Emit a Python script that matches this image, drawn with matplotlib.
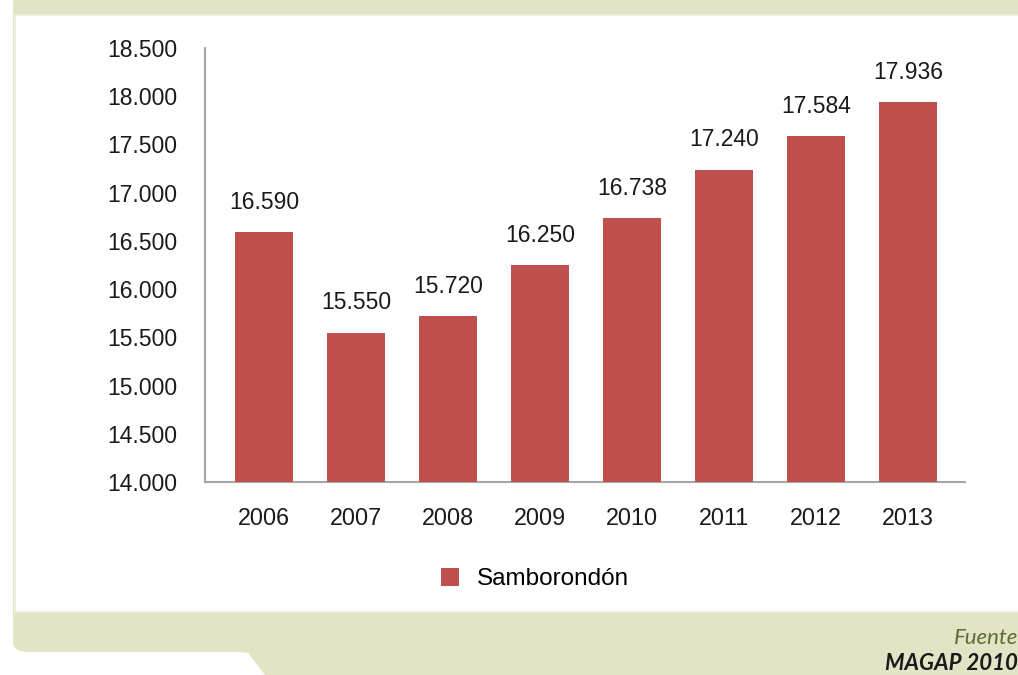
import matplotlib
matplotlib.use("Agg")
from matplotlib import pyplot as plt
from matplotlib.patches import Rectangle, FancyBboxPatch, Polygon

years = ['2006', '2007', '2008', '2009', '2010', '2011', '2012', '2013']
values = [16590, 15550, 15720, 16250, 16738, 17240, 17584, 17936]
value_labels = ['16.590', '15.550', '15.720', '16.250', '16.738', '17.240', '17.584', '17.936']
y_ticks = [14000, 14500, 15000, 15500, 16000, 16500, 17000, 17500, 18000, 18500]
y_tick_labels = ['14.000', '14.500', '15.000', '15.500', '16.000', '16.500',
                 '17.000', '17.500', '18.000', '18.500']
serie = 'Samborondón'

W, H = 1018, 675
plt.rcParams['font.family'] = ['Liberation Sans', 'DejaVu Sans']

fig = plt.figure(figsize=(W / 100, H / 100), dpi=100)
fig.patch.set_facecolor('white')

beige = '#E3E4C6'

def fx(px):
    return px / W

def fy(py):
    return 1 - py / H

# fondo decorativo (marco beige)
fig.patches.append(FancyBboxPatch((fx(13), fy(652)), fx(1040) - fx(13), fy(-10) - fy(652),
                                  boxstyle='round,pad=0,rounding_size=0.015',
                                  transform=fig.transFigure, facecolor=beige,
                                  edgecolor='none', zorder=-2))
fig.patches.append(Polygon([(fx(230), fy(651)), (fx(248), fy(653)), (fx(265), fy(675)),
                            (fx(1018), fy(675)), (fx(1018), fy(640))], closed=True,
                           transform=fig.transFigure, facecolor=beige,
                           edgecolor='none', zorder=-2))
fig.patches.append(Rectangle((fx(15), fy(612)), fx(1030) - fx(15), fy(15) - fy(612),
                             transform=fig.transFigure, facecolor='white',
                             edgecolor='#EEEFDC', linewidth=1.5, zorder=-1))

ax = fig.add_axes([fx(205), fy(482), fx(965) - fx(205), fy(48) - fy(482)])
ax.set_facecolor('none')
ax.set_zorder(2)

x = list(range(len(years)))
bars = ax.bar(x, values, width=0.63, color='#C0504D', label=serie, zorder=3)

for xi, v, lab in zip(x, values, value_labels):
    ax.annotate(lab, (xi, v), xytext=(0, 13), textcoords='offset points',
                ha='center', va='bottom', fontsize=16.5, color='#1a1a1a')

ax.set_xlim(-0.64, 7.62)
ax.set_ylim(14000, 18500)
ax.set_xticks(x)
ax.set_xticklabels(years, fontsize=16.8)
ax.set_yticks(y_ticks)
ax.set_yticklabels(y_tick_labels, fontsize=16.5)
ax.tick_params(axis='both', length=0, colors='#1a1a1a')
ax.tick_params(axis='x', pad=18)
ax.tick_params(axis='y', pad=20)

for s in ['top', 'right']:
    ax.spines[s].set_visible(False)
for s in ['left', 'bottom']:
    ax.spines[s].set_color('#A6A6A6')
    ax.spines[s].set_linewidth(1.5)

fig.legend(handles=[bars], labels=[serie], loc='center',
           bbox_to_anchor=(fx(535), fy(579)), frameon=False,
           handlelength=0.75, handleheight=0.75, handletextpad=0.75,
           prop={'size': 17.5})

fig.text(fx(1018), fy(638), 'Fuente', ha='right', va='center', fontsize=16,
         style='italic', color='#5E6B35', family=['Lato', 'DejaVu Sans'])
fig.text(fx(1018), fy(664), 'MAGAP 2010', ha='right', va='center', fontsize=16,
         style='italic', weight='bold', color='#1a1a1a', family=['Lato', 'DejaVu Sans'])

fig.savefig('out.png', dpi=100, facecolor=fig.get_facecolor())
